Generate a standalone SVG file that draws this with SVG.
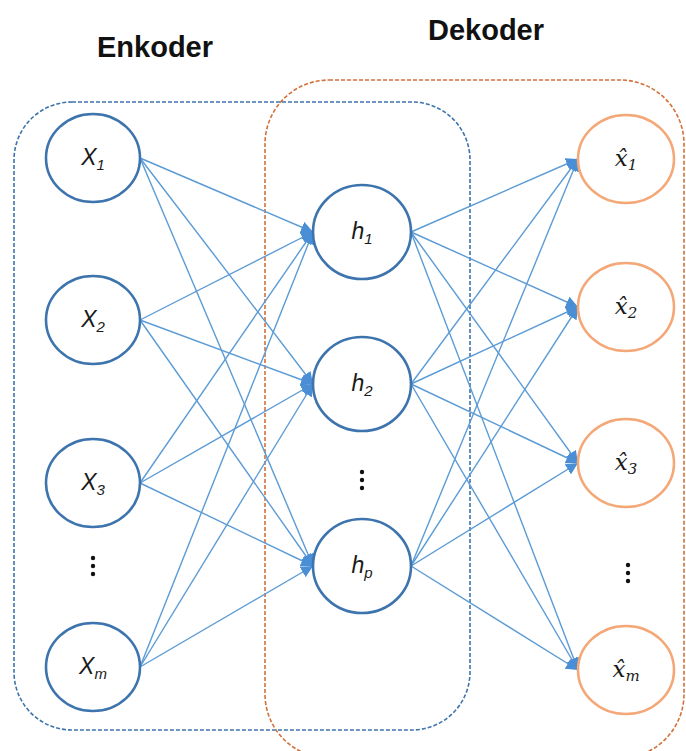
<svg xmlns="http://www.w3.org/2000/svg" width="686" height="751" viewBox="0 0 686 751">
<defs>
<style>
.title{font-family:"Liberation Sans",Arial,sans-serif;font-weight:bold;font-size:29px;fill:#111;text-anchor:middle}
.nin{fill:#fff;stroke:#3d74ad;stroke-width:2.6}
.nout{fill:#fff;stroke:#f4a777;stroke-width:2.6}
.lbl{font-family:"Liberation Sans",Arial,sans-serif;font-style:italic;font-size:23px;fill:#1a1a1a;text-anchor:middle}
.sub{font-size:15px}
.hat{font-family:"DejaVu Serif","Liberation Serif",serif;font-style:italic;font-size:23px;fill:#1a1a1a;text-anchor:middle}
.con line{stroke:#5b9bd5;stroke-width:1.4;marker-end:url(#ah)}
.dot{fill:#111}
</style>
<marker id="ah" markerUnits="userSpaceOnUse" markerWidth="14" markerHeight="12" refX="12" refY="6" orient="auto">
<path d="M0,0 L12,6 L0,12 Z" fill="#4a8fd6"/>
</marker>
</defs>
<rect width="686" height="751" fill="#fff"/>
<text class="title" x="155" y="57">Enkoder</text>
<text class="title" x="486" y="40">Dekoder</text>
<g id="enkoder-box"><rect x="14" y="102" width="456" height="628" rx="58" fill="none" stroke="#3d74ad" stroke-width="1.6" stroke-dasharray="4 2"/></g>
<g id="dekoder-box"><rect x="265" y="80" width="419" height="678" rx="64" fill="none" stroke="#d4703a" stroke-width="1.6" stroke-dasharray="4 2"/></g>
<g class="con" id="connectors">
<line x1="140" y1="158" x2="313" y2="232"/>
<line x1="140" y1="158" x2="313" y2="384"/>
<line x1="140" y1="158" x2="313" y2="566"/>
<line x1="140" y1="320" x2="313" y2="232"/>
<line x1="140" y1="320" x2="313" y2="384"/>
<line x1="140" y1="320" x2="313" y2="566"/>
<line x1="140" y1="483" x2="313" y2="232"/>
<line x1="140" y1="483" x2="313" y2="384"/>
<line x1="140" y1="483" x2="313" y2="566"/>
<line x1="140" y1="667" x2="313" y2="232"/>
<line x1="140" y1="667" x2="313" y2="384"/>
<line x1="140" y1="667" x2="313" y2="566"/>
<line x1="411" y1="232" x2="578" y2="159"/>
<line x1="411" y1="232" x2="578" y2="307"/>
<line x1="411" y1="232" x2="578" y2="463"/>
<line x1="411" y1="232" x2="578" y2="670"/>
<line x1="411" y1="384" x2="578" y2="159"/>
<line x1="411" y1="384" x2="578" y2="307"/>
<line x1="411" y1="384" x2="578" y2="463"/>
<line x1="411" y1="384" x2="578" y2="670"/>
<line x1="411" y1="566" x2="578" y2="159"/>
<line x1="411" y1="566" x2="578" y2="307"/>
<line x1="411" y1="566" x2="578" y2="463"/>
<line x1="411" y1="566" x2="578" y2="670"/>
</g>
<g id="x1"><ellipse class="nin" cx="93" cy="158" rx="47" ry="44"/><text class="lbl" x="93" y="165">X<tspan class="sub" dy="5">1</tspan></text></g>
<g id="x2"><ellipse class="nin" cx="93" cy="320" rx="47" ry="44"/><text class="lbl" x="93" y="327">X<tspan class="sub" dy="5">2</tspan></text></g>
<g id="x3"><ellipse class="nin" cx="93" cy="483" rx="47" ry="44"/><text class="lbl" x="93" y="490">X<tspan class="sub" dy="5">3</tspan></text></g>
<g id="xdots"><circle class="dot" cx="93" cy="558" r="2.2"/><circle class="dot" cx="93" cy="566" r="2.2"/><circle class="dot" cx="93" cy="574" r="2.2"/></g>
<g id="xm"><ellipse class="nin" cx="93" cy="667" rx="47" ry="44"/><text class="lbl" x="93" y="674">X<tspan class="sub" dy="5">m</tspan></text></g>
<g id="h1"><ellipse class="nin" cx="362" cy="232" rx="49" ry="47"/><text class="lbl" x="362" y="239">h<tspan class="sub" dy="5">1</tspan></text></g>
<g id="h2"><ellipse class="nin" cx="362" cy="384" rx="49" ry="47"/><text class="lbl" x="362" y="391">h<tspan class="sub" dy="5">2</tspan></text></g>
<g id="hdots"><circle class="dot" cx="362" cy="472" r="2.2"/><circle class="dot" cx="362" cy="480" r="2.2"/><circle class="dot" cx="362" cy="488" r="2.2"/></g>
<g id="hp"><ellipse class="nin" cx="362" cy="566" rx="49" ry="47"/><text class="lbl" x="362" y="573">h<tspan class="sub" dy="5">p</tspan></text></g>
<g id="y1"><ellipse class="nout" cx="626" cy="159" rx="48" ry="44"/><text class="hat" x="626" y="166">x̂<tspan class="sub" dy="4">1</tspan></text></g>
<g id="y2"><ellipse class="nout" cx="626" cy="307" rx="48" ry="44"/><text class="hat" x="626" y="314">x̂<tspan class="sub" dy="4">2</tspan></text></g>
<g id="y3"><ellipse class="nout" cx="626" cy="463" rx="48" ry="44"/><text class="hat" x="626" y="470">x̂<tspan class="sub" dy="4">3</tspan></text></g>
<g id="ydots"><circle class="dot" cx="628" cy="565" r="2.2"/><circle class="dot" cx="628" cy="573" r="2.2"/><circle class="dot" cx="628" cy="581" r="2.2"/></g>
<g id="ym"><ellipse class="nout" cx="626" cy="670" rx="48" ry="44"/><text class="hat" x="626" y="677">x̂<tspan class="sub" dy="4">m</tspan></text></g>
</svg>
